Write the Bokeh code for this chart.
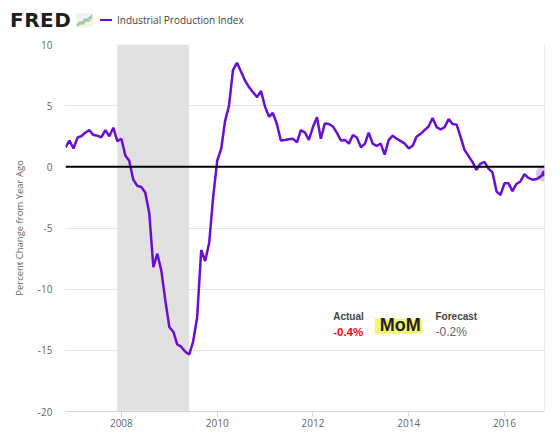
import pandas as pd
from bokeh.plotting import figure
from bokeh.layouts import column
from bokeh.models import (Range1d, FixedTicker, BoxAnnotation, Span, Label,
                          ColumnDataSource, Div)
from bokeh.embed import file_html
from bokeh.resources import INLINE

# ---------------- data ----------------
series_name = "Industrial Production Index"
first_month = "2006-11-01"
yoy_pct = [
    1.6, 2.15, 1.5, 2.4, 2.5, 2.8, 3.0, 2.6, 2.55, 2.4, 3.0, 2.5, 3.2, 2.1,
    2.3, 0.9, 0.5, -1.05, -1.55, -1.65, -2.1, -3.8, -8.2, -7.1, -8.5, -10.9,
    -13.1, -13.5, -14.5, -14.7, -15.1, -15.35, -14.3, -12.3, -6.8, -7.7, -6.2,
    -2.5, 0.5, 1.5, 3.7, 5.0, 7.9, 8.5, 7.8, 7.05, 6.5, 6.1, 5.7, 6.2, 4.9,
    4.1, 4.4, 3.5, 2.15, 2.2, 2.25, 2.3, 2.0, 3.0, 2.8, 2.2, 3.25, 4.05, 2.3,
    3.55, 3.5, 3.3, 2.8, 2.15, 2.2, 1.9, 2.6, 2.4, 1.6, 1.9, 2.8, 1.9, 1.7,
    1.9, 1.0, 2.2, 2.55, 2.3, 2.1, 1.9, 1.5, 1.75, 2.45, 2.7, 3.0, 3.3, 4.0,
    3.25, 3.05, 3.25, 3.9, 3.5, 3.45, 2.4, 1.4, 0.9, 0.4, -0.25, 0.25, 0.4,
    -0.15, -0.45, -2.0, -2.3, -1.35, -1.35, -2.0, -1.4, -1.2, -0.6, -0.9,
    -1.05, -1.0, -0.8, -0.55,
]
recession_start = "2007-12-01"
recession_end = "2009-06-01"
y_ticks = [-20, -15, -10, -5, 0, 5, 10]
x_tick_years = [2008, 2010, 2012, 2014, 2016]
actual_label = "Actual"
actual_value = "-0.4%"
mom_label = "MoM"
forecast_label = "Forecast"
forecast_value = "-0.2%"

# ---------------- helpers ----------------
def ms(d):
    return pd.Timestamp(d).timestamp() * 1000.0

months = pd.date_range(first_month, periods=len(yoy_pct), freq="MS")
source = ColumnDataSource(dict(date=months, yoy=yoy_pct))

LINE = "#6a0dd6"
FONT = "Open Sans"
HEADER_H = 36

# ---------------- header (logo + legend) ----------------
header_html = f"""
<div style="position:relative;width:560px;height:{HEADER_H}px;background:#fff;">
  <span style="position:absolute;left:10px;top:10px;font-family:'DejaVu Sans';
    font-weight:bold;font-size:20px;line-height:20px;color:#1e1e1e;
    letter-spacing:0.5px;">FRED</span>
  <svg style="position:absolute;left:76px;top:13px" width="17" height="14">
    <rect x="0" y="0" width="17" height="14" fill="#f2f2f2"/>
    <polyline points="1,12 4,9 6,10 9,6 11,7 16,2" fill="none"
      stroke="#8cb8e0" stroke-width="1.4"/>
    <polyline points="1,13 4,11 7,11 10,8 13,8 16,4" fill="none"
      stroke="#a5cf6a" stroke-width="1.4"/>
  </svg>
  <span style="position:absolute;left:100px;top:19px;width:12px;height:2px;
    background:{LINE};"></span>
  <span style="position:absolute;left:117px;top:13px;font-family:'{FONT}';
    font-size:10px;line-height:14px;color:#444;white-space:nowrap;">{series_name}</span>
</div>
"""
header = Div(text=header_html, width=560, height=HEADER_H, margin=0)

# ---------------- chart ----------------
p = figure(width=560, height=446 - HEADER_H, x_axis_type="datetime",
           x_range=Range1d(ms(months[0]), ms(months[-1])),
           y_range=Range1d(min(y_ticks), max(y_ticks)),
           output_backend="svg", toolbar_location=None,
           min_border_left=65, min_border_right=16,
           min_border_top=44 - HEADER_H, min_border_bottom=35, margin=0)
p.outline_line_color = None
p.background_fill_color = "white"
p.border_fill_color = "white"

# recession shading
p.add_layout(BoxAnnotation(left=ms(recession_start), right=ms(recession_end),
                           fill_color="#e1e1e1", fill_alpha=1.0,
                           line_color=None, level="underlay"))

# grid
p.xgrid.grid_line_color = None
p.ygrid.grid_line_color = "#e6e6e6"
p.ygrid.grid_line_width = 1

# right border
p.add_layout(Span(location=ms(months[-1]), dimension="height",
                  line_color="#d9d9d9", line_width=1))

# y axis
p.yaxis.ticker = FixedTicker(ticks=y_ticks)
p.yaxis.major_label_overrides = {t: str(t) for t in y_ticks}
p.yaxis.axis_line_color = None
p.yaxis.major_tick_line_color = None
p.yaxis.minor_tick_line_color = None
p.yaxis.major_label_standoff = 7
p.yaxis.major_label_text_font = FONT
p.yaxis.major_label_text_font_size = "10px"
p.yaxis.major_label_text_color = "#666666"
p.yaxis.axis_label = "Percent Change from Year Ago"
p.yaxis.axis_label_text_font = FONT
p.yaxis.axis_label_text_font_size = "9.5px"
p.yaxis.axis_label_text_font_style = "normal"
p.yaxis.axis_label_text_color = "#666666"
p.yaxis.axis_label_standoff = 9

# x axis
x_ticks = [ms(f"{y}-01-01") for y in x_tick_years]
p.xaxis.ticker = FixedTicker(ticks=x_ticks)
p.xaxis.major_label_overrides = {t: str(y) for t, y in zip(x_ticks, x_tick_years)}
p.xaxis.axis_line_color = "#ccd6eb"
p.xaxis.major_tick_line_color = "#ccd6eb"
p.xaxis.major_tick_out = 5
p.xaxis.major_tick_in = 0
p.xaxis.minor_tick_line_color = None
p.xaxis.major_label_standoff = 2
p.xaxis.major_label_text_font = FONT
p.xaxis.major_label_text_font_size = "10px"
p.xaxis.major_label_text_color = "#666666"

# zero line
p.add_layout(Span(location=0, dimension="width", line_color="#000000",
                  line_width=2))

# series
r = p.line("date", "yoy", source=source, line_color=LINE, line_width=2.5)
last = ColumnDataSource(dict(date=[months[-1]], yoy=[yoy_pct[-1]]))
p.scatter("date", "yoy", source=last, size=17, fill_color=LINE,
          fill_alpha=0.25, line_color=None)
p.scatter("date", "yoy", source=last, size=6, fill_color=LINE,
          line_color=None)

# MoM annotation (screen units relative to the plot frame)
p.add_layout(BoxAnnotation(left=309.3, right=356.7, bottom=77.7, top=92.7,
                           left_units="screen", right_units="screen",
                           bottom_units="screen", top_units="screen",
                           fill_color="#f8f570", fill_alpha=1.0,
                           line_color=None))
p.add_layout(Label(x=334.7, y=86.5, x_units="screen", y_units="screen",
                   text=mom_label, text_font="Liberation Sans",
                   text_font_style="bold", text_font_size="18px",
                   text_color="#222222", text_align="center",
                   text_baseline="middle"))
p.add_layout(Label(x=267.7, y=95, x_units="screen", y_units="screen",
                   text=actual_label, text_font="Liberation Sans",
                   text_font_style="bold", text_font_size="10px",
                   text_color="#444444", text_baseline="middle"))
p.add_layout(Label(x=267.7, y=79.3, x_units="screen", y_units="screen",
                   text=actual_value, text_font="Liberation Sans",
                   text_font_style="bold", text_font_size="11.5px",
                   text_color="#ff0000", text_baseline="middle"))
p.add_layout(Label(x=370, y=95, x_units="screen", y_units="screen",
                   text=forecast_label, text_font="Liberation Sans",
                   text_font_style="bold", text_font_size="10px",
                   text_color="#444444", text_baseline="middle"))
p.add_layout(Label(x=370, y=79.3, x_units="screen", y_units="screen",
                   text=forecast_value, text_font="Liberation Sans",
                   text_font_size="12px", text_color="#666666",
                   text_baseline="middle"))

layout = column(header, p, spacing=0)
open("out.html", "w").write(file_html(layout, INLINE))
